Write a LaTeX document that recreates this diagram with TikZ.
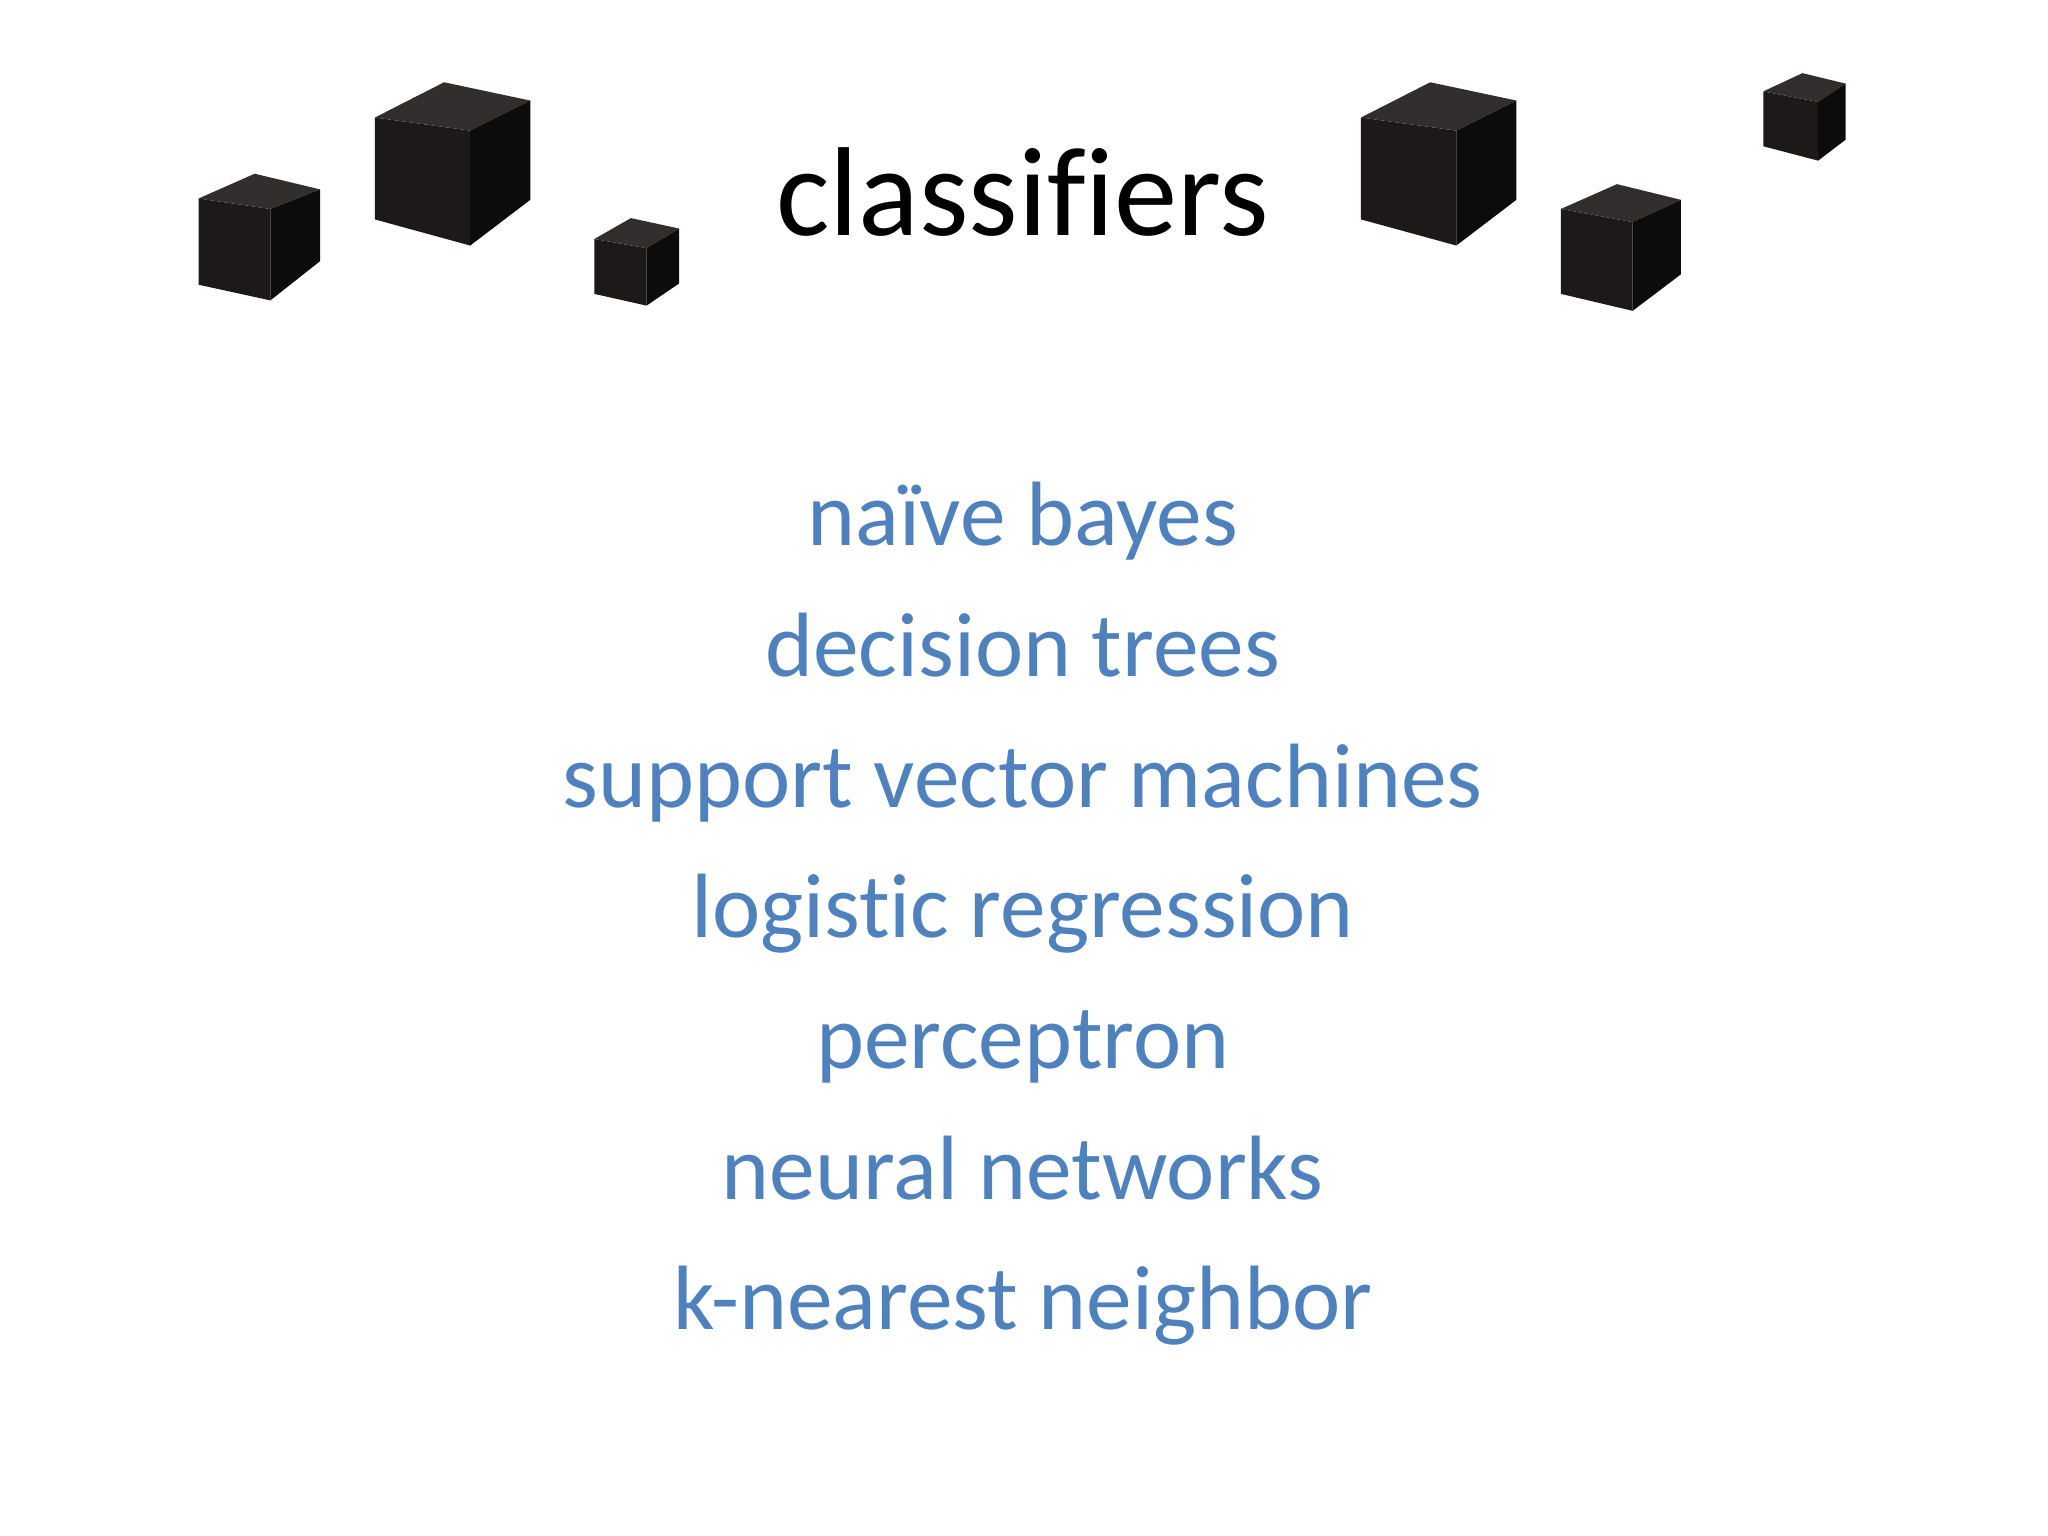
\documentclass[tikz,border=0pt]{standalone}
\usepackage{fontspec}
\setmainfont{Carlito}[Ligatures={NoCommon}]
\definecolor{itemblue}{HTML}{4F81BD}
\definecolor{ctop}{HTML}{332E2E}
\definecolor{cfront}{HTML}{1E1919}
\definecolor{cside}{HTML}{0C0C0C}
\newcommand{\mycube}[7]{%
  \fill[cfront] #1 -- #4 -- #6 -- #5 -- cycle;
  \fill[ctop] #1 -- #2 -- #3 -- #4 -- cycle;
  \fill[cside] #4 -- #3 -- #7 -- #6 -- cycle;}
\begin{document}
\begin{tikzpicture}[x=0.01306cm,y=-0.01306cm,
  item/.style={text=itemblue,font=\fontsize{26}{32}\selectfont,anchor=base,inner sep=0}]
\useasboundingbox[fill=white] (0,0) rectangle (1568,1176);
\mycube{(152,152)}{(195,133)}{(245,145)}{(207,160)}{(152,218)}{(207,230)}{(245,200)}
\mycube{(287,90)}{(340,63)}{(406,77)}{(360,100)}{(287,168)}{(360,188)}{(406,153)}
\mycube{(455,183)}{(483,167)}{(520,175)}{(495,190)}{(455,225)}{(495,234)}{(520,217)}
\mycube{(1042,90)}{(1095,63)}{(1161,77)}{(1115,100)}{(1042,168)}{(1115,188)}{(1161,153)}
\mycube{(1195,160)}{(1238,141)}{(1287,153)}{(1250,170)}{(1195,225)}{(1250,238)}{(1287,210)}
\mycube{(1350,70)}{(1380,56)}{(1413,64)}{(1392,78)}{(1350,112)}{(1392,123)}{(1413,107)}
\node[anchor=base,inner sep=0,font=\fontsize{36}{42}\selectfont] (title) at (783,180) {classifiers};
\node[item] (i1) at (783,418) {naïve bayes};
\node[item] (i2) at (783,518) {decision trees};
\node[item] (i3) at (783,618) {support vector machines};
\node[item] (i4) at (783,718) {logistic regression};
\node[item] (i5) at (783,818) {perceptron};
\node[item] (i6) at (783,918) {neural networks};
\node[item] (i7) at (783,1018) {k-nearest neighbor};
\end{tikzpicture}
\end{document}
